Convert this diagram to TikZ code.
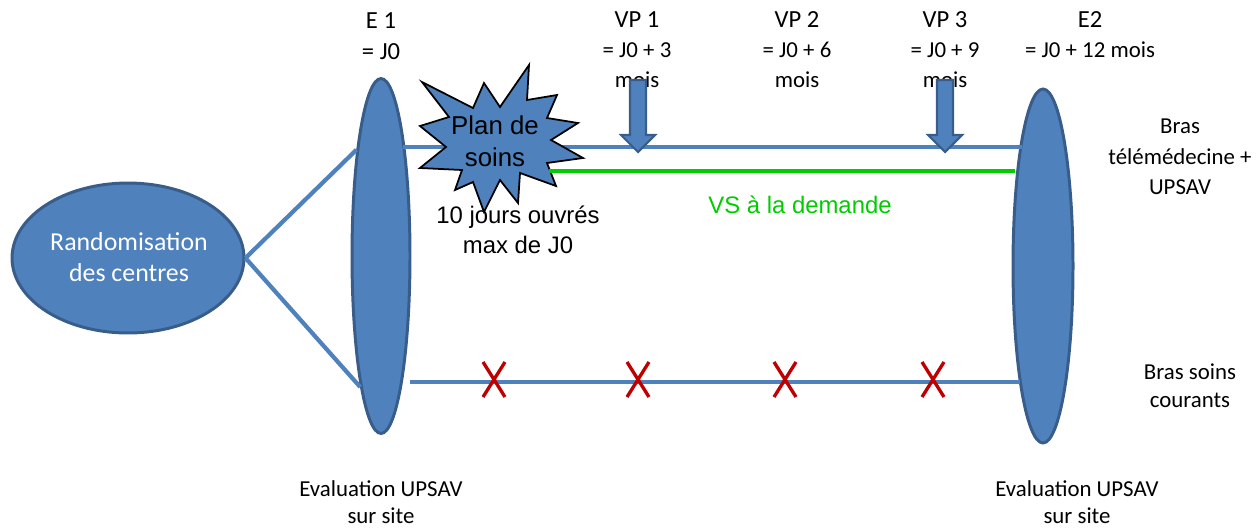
\documentclass[tikz,border=0pt]{standalone}
\usepackage{fontspec}
\setmainfont{Carlito}
\newfontfamily\arial{Liberation Sans}
\usetikzlibrary{shapes.geometric}
\definecolor{obl}{HTML}{4F81BD}
\definecolor{obd}{HTML}{385D8A}
\definecolor{vgreen}{HTML}{00CC00}
\definecolor{xred}{HTML}{C00000}
\begin{document}
\begin{tikzpicture}[x=0.02cm,y=-0.02cm,
  blob/.style={ellipse,fill=obl,draw=obd,line width=1.7pt,inner sep=0pt},
  arm/.style={draw=obl,line width=2.4pt},
  tt/.style={inner sep=0pt,align=center,font=\fontsize{14}{18}\selectfont},
  st/.style={inner sep=0pt,align=center,font=\fontsize{13}{17}\selectfont},
  arialtxt/.style={inner sep=0pt,align=center,font=\arial\fontsize{13.6}{17}\selectfont},
  blockarrow/.style={fill=obl,draw=obd,line width=1.2pt},
  cross/.style={draw=xred,line width=1.9pt}]
\useasboundingbox (0,0) rectangle (1256,528);

% ellipses
\node[blob,minimum width=4.64cm,minimum height=3.0cm] (rand) at (128,258) {};
\node[blob,minimum width=1.16cm,minimum height=7.1cm] (E1) at (381,256) {};
\node[blob,minimum width=1.2cm,minimum height=7.08cm] (E2) at (1043,266) {};
\node[text=white,inner sep=0pt,align=center,font=\fontsize{14.7}{18}\selectfont] (randt) at (129,257) {Randomisation\\des centres};

% connectors
\draw[arm] (rand.east) -- (E1.103);
\draw[arm] (rand.east) -- (E1.261);

\coordinate (t1) at (403,147);
\coordinate (t2) at (1022,147);
\coordinate (b1) at (410,382);
\coordinate (b2) at (1020,382);
\coordinate (g1) at (549,171);
\coordinate (g2) at (1015,171);
\draw[arm] (t1) -- (t2);
\draw[arm,line width=2.8pt] (b1) -- (b2);

% starburst
\draw[fill=obl,draw=black,line width=1pt]
 (422,82) -- (473,108) -- (484,83) -- (500,107) -- (529,65) -- (527,100)
 -- (557,95) -- (547,118) -- (578,123) -- (551,140) -- (583,158) -- (547,163)
 -- (556,186) -- (520,173) -- (518,203) -- (500,180) -- (484,212) -- (473,182)
 -- (455,190) -- (462,170) -- (420,168) -- (446,147) -- (420,126) -- (449,117) -- cycle;
\node[arialtxt,font=\arial\fontsize{14.7}{18}\selectfont] (plan) at (495,141) {Plan de\\soins};

\draw[draw=vgreen,line width=2.4pt] (g1) -- (g2);
\node[arialtxt,text=vgreen] (vs) at (800,205) {VS à la demande};
\node[arialtxt] (jours) at (518,230) {10 jours ouvrés\\max de J0};

% top labels
\node[tt] (e1t) at (381,36) {E 1\\= J0};
\node[tt] (vp1t) at (637,20) {VP 1};
\node[st] (vp1s) at (637,65) {= J0 + 3\\mois};
\node[tt] (vp2t) at (797,20) {VP 2};
\node[st] (vp2s) at (797,65) {= J0 + 6\\mois};
\node[tt] (vp3t) at (945,20) {VP 3};
\node[st] (vp3s) at (945,65) {= J0 + 9\\mois};
\node[tt] (e2t) at (1090,20) {E2};
\node[st] (e2s) at (1090,50) {= J0 + 12 mois};

% block arrows
\foreach \ax/\nm in {638/a1,945/a3}{
  \draw[blockarrow] (\ax-8,80) -- (\ax+8,80) -- (\ax+8,135) -- (\ax+17,135)
    -- (\ax,152) -- (\ax-17,135) -- (\ax-8,135) -- cycle;
}

% crosses
\foreach \cx in {494,638,785,933}{
  \draw[cross] (\cx-11,362) -- (\cx+11,397);
  \draw[cross] (\cx+11,362) -- (\cx-11,397);
}

% right labels
\node[st,font=\fontsize{13}{17.5}\selectfont] (bt) at (1180,157) {Bras\\télémédecine +\\UPSAV};
\node[st,font=\fontsize{13}{16}\selectfont] (bs) at (1190,386) {Bras soins\\courants};

% bottom labels
\node[st,font=\fontsize{13}{15.5}\selectfont] (ev1) at (381,502) {Evaluation UPSAV\\sur site};
\node[st,font=\fontsize{13}{15.5}\selectfont] (ev2) at (1077,502) {Evaluation UPSAV\\sur site};
\end{tikzpicture}
\end{document}
